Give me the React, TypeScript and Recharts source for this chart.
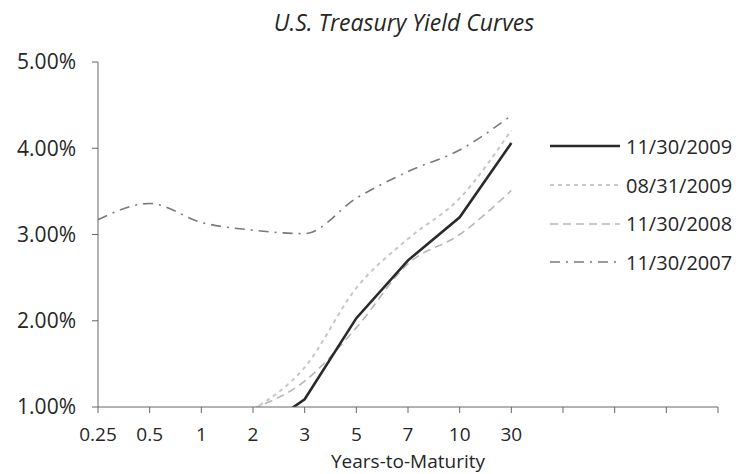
import { CartesianGrid, Line, LineChart, XAxis, YAxis } from "recharts";

// maturities shown on the axis; the axis keeps going for 4 more empty slots
const maturities = ["0.25", "0.5", "1", "2", "3", "5", "7", "10", "30"];
const slotCount = 13;

// yields in % (values under 1% are cut off by the axis)
const yield20091130 = [null, null, null, 0.67, 1.09, 2.03, 2.7, 3.2, 4.06];
const yield20090831 = [null, null, null, 0.97, 1.46, 2.38, 2.95, 3.42, 4.21];
const yield20081130 = [null, null, null, 0.98, 1.3, 1.92, 2.66, 3.0, 3.51];
const yield20071130 = [3.17, 3.36, 3.14, 3.05, 3.01, 3.42, 3.73, 3.98, 4.38];

const yTicks = [1, 2, 3, 4, 5];

const series = [
    { key: "d20071130", name: "11/30/2007", values: yield20071130, color: "#7a7a7a", width: 1.6, dash: "10 6 2 6", type: "monotone" },
    { key: "d20081130", name: "11/30/2008", values: yield20081130, color: "#b4b7bc", width: 1.6, dash: "8 5", type: "monotone" },
    { key: "d20090831", name: "08/31/2009", values: yield20090831, color: "#c3c7ce", width: 2, dash: "4 4", type: "monotone" },
    { key: "d20091130", name: "11/30/2009", values: yield20091130, color: "#2a2a2a", width: 2.6, dash: undefined, type: "linear" },
] as const;

const legendOrder = ["d20091130", "d20090831", "d20081130", "d20071130"];

const data = Array.from({ length: slotCount }, (_, i) => {
    const row: Record<string, number | null> = { x: i };
    series.forEach((s) => {
        row[s.key] = i < s.values.length ? s.values[i] : null;
    });
    return row;
});

const font = '"Open Sans", sans-serif';
const textColor = "#262626";

function LegendBox() {
    return (
        <div style={{ position: "absolute", left: 550, top: 127, fontFamily: font, fontSize: 20, color: textColor }}>
            {legendOrder.map((k) => {
                const s = series.find((x) => x.key === k)!;
                return (
                    <div key={k} style={{ display: "flex", alignItems: "center", height: 38.7 }}>
                        <svg width={70} height={10} style={{ marginRight: 6 }}>
                            <line x1={0} y1={5} x2={70} y2={5} stroke={s.color} strokeWidth={s.width} strokeDasharray={s.dash} />
                        </svg>
                        <span>{s.name}</span>
                    </div>
                );
            })}
        </div>
    );
}

export default function App() {
    return (
        <div style={{ position: "absolute", left: 0, top: 0, width: 750, height: 474, background: "#fff", fontFamily: font }}>
            <div style={{ position: "absolute", left: 0, width: 808, top: 6, textAlign: "center", fontStyle: "italic", fontSize: 23, color: textColor }}>
                U.S. Treasury Yield Curves
            </div>
            <LineChart width={750} height={474} data={data} margin={{ top: 62, right: 32, bottom: 0, left: 0 }}>
                <CartesianGrid stroke="none" />
                <XAxis
                    type="number"
                    dataKey="x"
                    domain={[0, slotCount - 1]}
                    ticks={data.map((d) => d.x as number)}
                    tickFormatter={(v: number) => maturities[v] ?? ""}
                    interval={0}
                    height={67}
                    stroke="#666"
                    tickSize={6}
                    tickMargin={15}
                    tick={{ fill: textColor, fontSize: 19, fontFamily: font }}
                    label={{ value: "Years-to-Maturity", position: "insideBottom", offset: 6, fill: textColor, fontSize: 19, fontFamily: font }}
                />
                <YAxis
                    domain={[1, 5]}
                    ticks={yTicks}
                    allowDataOverflow
                    width={98}
                    stroke="#666"
                    tickSize={6}
                    tickMargin={16}
                    tickFormatter={(v: number) => `${v.toFixed(2)}%`}
                    tick={{ fill: textColor, fontSize: 21, fontFamily: font }}
                />
                {series.map((s) => (
                    <Line
                        key={s.key}
                        type={s.type}
                        dataKey={s.key}
                        name={s.name}
                        stroke={s.color}
                        strokeWidth={s.width}
                        strokeDasharray={s.dash}
                        dot={false}
                        activeDot={false}
                        isAnimationActive={false}
                    />
                ))}
            </LineChart>
            <LegendBox />
        </div>
    );
}
